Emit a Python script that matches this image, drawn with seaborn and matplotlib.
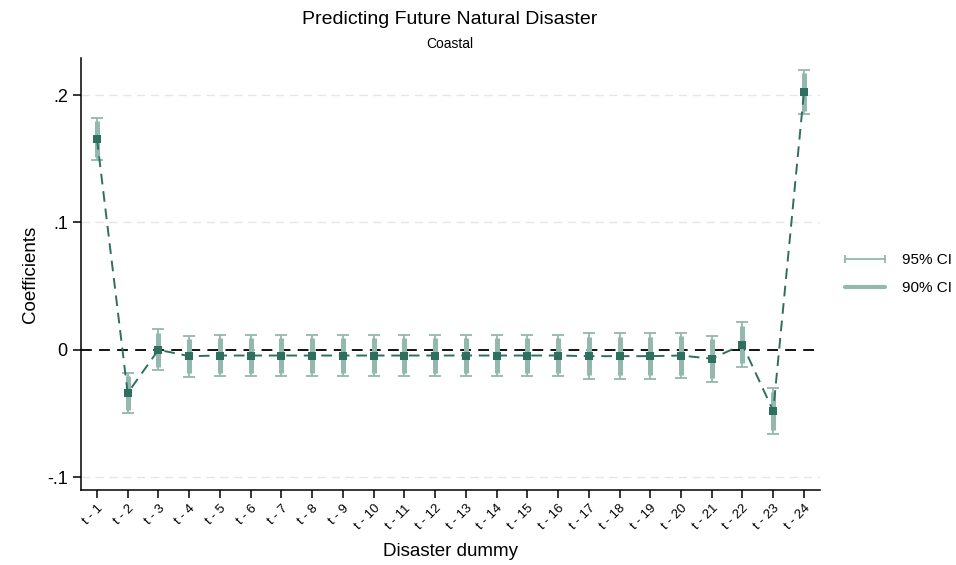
import numpy as np
import pandas as pd
import matplotlib
matplotlib.use("Agg")
import matplotlib.pyplot as plt
import seaborn as sns
from matplotlib.lines import Line2D

labels = [f"t - {i}" for i in range(1, 25)]
coef = [0.1655, -0.034, 0.000, -0.005, -0.0045, -0.0045, -0.0045, -0.0045,
        -0.0045, -0.0045, -0.0045, -0.0045, -0.0045, -0.0045, -0.0045, -0.0045,
        -0.005, -0.005, -0.005, -0.0045, -0.007, 0.004, -0.048, 0.2025]
half95 = [0.0165, 0.016, 0.016, 0.016, 0.016, 0.016, 0.016, 0.016,
          0.016, 0.016, 0.016, 0.016, 0.016, 0.016, 0.016, 0.016,
          0.018, 0.018, 0.018, 0.018, 0.018, 0.0175, 0.018, 0.0175]
half90 = [h * 0.84 for h in half95]
yticks = [-0.1, 0, 0.1, 0.2]
yticklabels = ["-.1", "0", ".1", ".2"]

df = pd.DataFrame({"label": labels, "coef": coef, "h95": half95, "h90": half90})
df["x"] = np.arange(len(df))

sns.set_style("white")
plt.rcParams['font.family'] = ['Arial', 'Liberation Sans', 'DejaVu Sans']
plt.rcParams['text.color'] = 'black'
plt.rcParams['axes.labelcolor'] = 'black'
plt.rcParams['xtick.color'] = 'black'
plt.rcParams['ytick.color'] = 'black'

fig = plt.figure(figsize=(9.56, 5.65), dpi=100)
ax = fig.add_axes([0.0847, 0.133, 0.773, 0.764])

ci_color = "#93b8ad"
pt_color = "#2e6f60"

for yv in [0.1, 0.2, -0.1]:
    ax.axhline(yv, color="#e6e6e6", lw=1.0, ls=(0, (6, 4)), zorder=0)
ax.axhline(0, color="black", lw=1.3, ls=(0, (6, 4)), zorder=1)

ax.errorbar(df["x"], df["coef"], yerr=df["h95"], fmt="none", ecolor=ci_color,
            elinewidth=1.3, capsize=4, capthick=1.3, zorder=2)
ax.vlines(df["x"], df["coef"] - df["h90"], df["coef"] + df["h90"],
          color=ci_color, lw=3.6, zorder=3)
sns.lineplot(data=df, x="x", y="coef", ax=ax, color=pt_color, lw=1.4,
             linestyle=(0, (5.5, 3.5)), marker="s", markersize=5.5,
             markeredgewidth=0, markerfacecolor=pt_color, zorder=4, legend=False)

ax.set_xlim(-0.52, 23.52)
ax.set_ylim(-0.11, 0.229)
ax.set_xticks(df["x"])
ax.set_xticklabels(labels, rotation=45, ha="right", rotation_mode="anchor", fontsize=9.5)
ax.set_yticks(yticks)
ax.set_yticklabels(yticklabels, fontsize=13)
for s in ["top", "right"]:
    ax.spines[s].set_visible(False)
for s in ["left", "bottom"]:
    ax.spines[s].set_color("black")
    ax.spines[s].set_linewidth(1.1)
ax.tick_params(axis="both", direction="out", length=6, width=1.1, color="black", bottom=True, left=True)
ax.tick_params(axis="x", pad=3)

ax.set_xlabel("Disaster dummy", fontsize=13.5, labelpad=8)
ax.set_ylabel("Coefficients", fontsize=13.5, labelpad=6)

fig.text(0.47, 0.965, "Predicting Future Natural Disaster", ha="center", va="center", fontsize=14)
fig.text(0.47, 0.922, "Coastal", ha="center", va="center", fontsize=10)

h95 = Line2D([0, 1], [0, 0], color=ci_color, lw=1.3, marker="|", markersize=6,
             markeredgewidth=1.3)
h90 = Line2D([0, 1], [0, 0], color=ci_color, lw=3.0)
fig.legend([h95, h90], ["95% CI", "90% CI"], loc="center left", bbox_to_anchor=(0.865, 0.515),
           frameon=False, fontsize=11, handlelength=3.2, labelspacing=0.9, numpoints=2)

fig.savefig("out.png", dpi=100)
